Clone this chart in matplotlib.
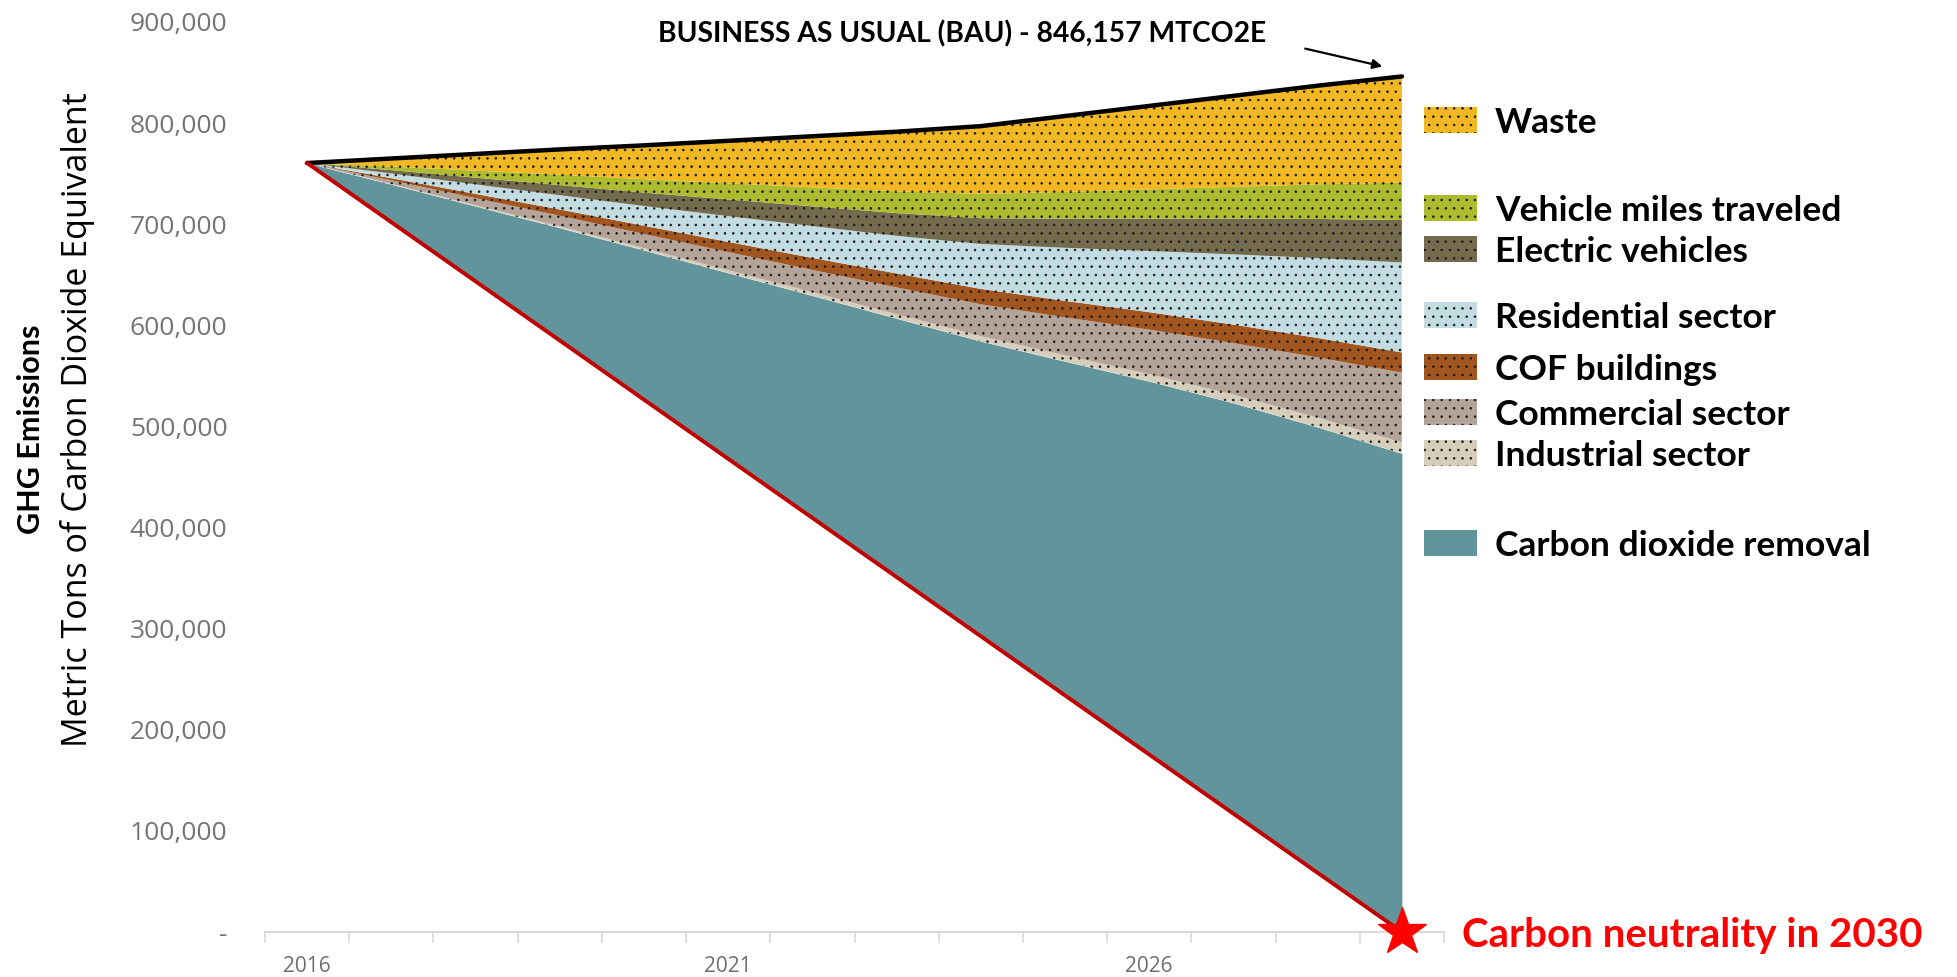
import numpy as np
import matplotlib
matplotlib.use('Agg')
import matplotlib.pyplot as plt
from matplotlib.patches import Rectangle
from matplotlib.ticker import FuncFormatter, FixedLocator

# ---------------- data (metric tons CO2e) ----------------
years = list(range(2016, 2030))
year_labels = ['2016', '2021', '2026']
year_label_pos = [0, 5, 10]

bau_total = [760500, 765000, 769500, 774000, 778000, 782500, 787000,
             791500, 797000, 807000, 817000, 827000, 837000, 846157]
net_target = [760500, 702000, 643500, 585000, 526500, 468000, 409500,
              351000, 292500, 234000, 175500, 117000, 58500, 0]

carbon_removal = [0, 37400, 74300, 111400, 147800, 183800, 219900,
                  255800, 291800, 330400, 369200, 406200, 440800, 473157]
industrial = [0, 500, 1000, 1500, 2000, 2700, 3400, 4200, 5000, 6000, 7000, 8200, 9500, 11000]
commercial = [0, 3500, 7000, 10500, 14000, 18000, 22000, 26500, 31500, 37500, 44000, 51000, 59500, 69000]
cof_buildings = [0, 2100, 4200, 6200, 8200, 10000, 11900, 13800, 15200, 16300, 17300, 18300, 19200, 20000]
residential = [0, 4700, 9400, 14100, 19500, 25500, 31500, 37200, 44500, 52500, 60500, 69500, 79000, 89000]
electric_vehicles = [0, 3300, 6600, 10000, 13300, 16500, 19500, 22500, 25500, 28800, 32000, 35300, 38700, 42000]
vehicle_miles = [0, 3500, 7000, 10300, 13200, 16000, 18800, 21500, 24000, 26500, 29000, 31500, 34300, 37000]
waste = [0, 8000, 16500, 25000, 33500, 42000, 50500, 59000, 67000, 75000, 82500, 90000, 97500, 105000]

layer_names = ['Carbon dioxide removal', 'Industrial sector', 'Commercial sector', 'COF buildings',
               'Residential sector', 'Electric vehicles', 'Vehicle miles traveled', 'Waste']
layer_values = [carbon_removal, industrial, commercial, cof_buildings,
                residential, electric_vehicles, vehicle_miles, waste]
layer_colors = ['#62949B', '#D6CEBA', '#B4A398', '#A1551F',
                '#C3DCE1', '#746B4F', '#ADBB2E', '#F2B824']
layer_hatch = [None, '..', '..', '..', '..', '..', '..', '..']

y_ticks = [0, 100000, 200000, 300000, 400000, 500000, 600000, 700000, 800000, 900000]

# ---------------- figure ----------------
W, H = 1957, 977
fig = plt.figure(figsize=(W / 100, H / 100), dpi=100)
plt.rcParams['hatch.linewidth'] = 0.6

def fx(px):
    return px / W

def fy(py):
    return 1 - py / H

ax = fig.add_axes([fx(265), fy(932), fx(1444) - fx(265), fy(22) - fy(932)])

x = np.arange(len(years))
base = np.array(net_target, dtype=float)
for name, vals, col, hat in zip(layer_names, layer_values, layer_colors, layer_hatch):
    top = base + np.array(vals, dtype=float)
    ax.fill_between(x, base, top, facecolor=col, edgecolor='#1a1a1a' if hat else col,
                    hatch=hat, linewidth=0, zorder=2)
    base = top

ax.plot(x, bau_total, color='black', lw=3.2, zorder=4, solid_capstyle='round')
ax.plot(x, net_target, color='#C00000', lw=2.8, zorder=4)
ax.plot([x[-1]], [net_target[-1]], marker='*', markersize=36, color='#FF0000',
        markeredgecolor='#FF0000', zorder=6, clip_on=False)

ax.set_xlim(-0.5, 13.5)
ax.set_ylim(0, 900000)

# axes styling
for s in ['top', 'right', 'left']:
    ax.spines[s].set_visible(False)
ax.spines['bottom'].set_color('#D9D9D9')
ax.spines['bottom'].set_linewidth(1.5)
ax.spines['bottom'].set_zorder(1)

ax.xaxis.set_major_locator(FixedLocator(year_label_pos))
ax.set_xticklabels(year_labels)
ax.xaxis.set_minor_locator(FixedLocator(np.arange(-0.5, 13.6, 1.0)))
ax.tick_params(axis='x', which='major', length=0, pad=17, labelsize=15, labelcolor='#6E6E6E')
ax.tick_params(axis='x', which='minor', length=8, width=1.2, color='#D9D9D9')
for lab in ax.get_xticklabels():
    lab.set_fontfamily('Open Sans')

ax.set_yticks(y_ticks)
ax.yaxis.set_major_formatter(FuncFormatter(lambda v, p: '-' if v == 0 else f'{int(v):,}'))
ax.tick_params(axis='y', length=0, pad=27, labelsize=19, labelcolor='#757575')
for lab in ax.get_yticklabels():
    lab.set_fontfamily('Open Sans')

# axis titles
fig.text(fx(31), fy(429), 'GHG Emissions', rotation=90, ha='center', va='center',
         fontsize=22, fontweight='bold', family='Lato', color='black')
fig.text(fx(78), fy(420), 'Metric Tons of Carbon Dioxide Equivalent', rotation=90,
         ha='center', va='center', fontsize=24.5, family='Open Sans', color='black')

# BAU annotation
fig.text(fx(658), fy(34), 'BUSINESS AS USUAL (BAU) - 846,157 MTCO2E', ha='left', va='center',
         fontsize=20.3, fontweight='bold', family='Lato', color='black')
ax.annotate('', xy=(12.80, 855500), xytext=(11.82, 874300),
            arrowprops=dict(arrowstyle='-|>', color='black', lw=1.6, mutation_scale=14),
            annotation_clip=False)

# carbon neutrality text
fig.text(fx(1462), fy(935), 'Carbon neutrality in 2030', ha='left', va='center',
         fontsize=29, fontweight='bold', family='Lato', color='#FF0000')

# custom legend
legend_rows = [('Waste', 120), ('Vehicle miles traveled', 208), ('Electric vehicles', 249),
               ('Residential sector', 315), ('COF buildings', 367), ('Commercial sector', 412),
               ('Industrial sector', 453), ('Carbon dioxide removal', 543)]
for (label, cy) in legend_rows:
    i = layer_names.index(label)
    rect = Rectangle((fx(1424), fy(cy + 13)), fx(53), 26 / H, transform=fig.transFigure,
                     facecolor=layer_colors[i], edgecolor='#1a1a1a' if layer_hatch[i] else layer_colors[i],
                     hatch=layer_hatch[i], linewidth=0)
    fig.add_artist(rect)
    fig.text(fx(1495), fy(cy + 3), label, ha='left', va='center', fontsize=25.5,
             fontweight='bold', family='Lato', color='black')

fig.savefig('out.png', dpi=100)
